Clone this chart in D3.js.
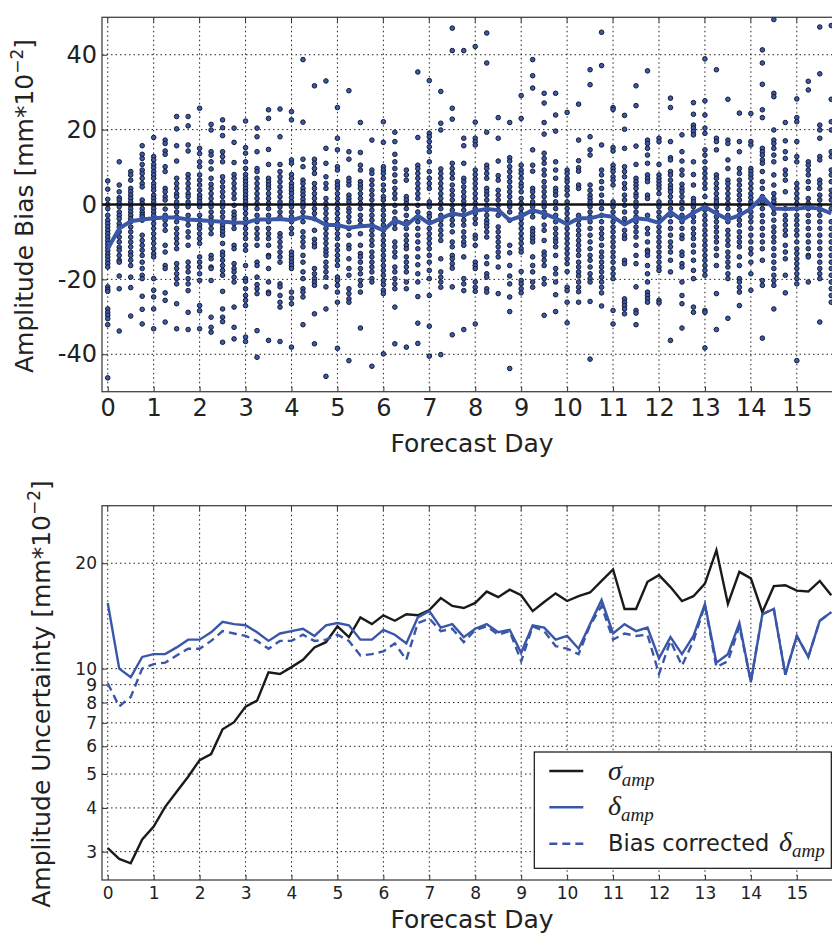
<!DOCTYPE html>
<html>
<head>
<meta charset="utf-8">
<script src="https://cdn.jsdelivr.net/npm/d3@7"></script>
<style>
  body { margin: 0; background: #fff; }
  svg { display: block; font-family: "DejaVu Sans", sans-serif; }
</style>
</head>
<body>
<svg id="chart" width="832" height="934"></svg>
<script>
// forecast lead times (days, 6-hourly)
var days = [0, 0.25, 0.5, 0.75, 1, 1.25, 1.5, 1.75, 2, 2.25, 2.5, 2.75, 3, 3.25, 3.5, 3.75,
  4, 4.25, 4.5, 4.75, 5, 5.25, 5.5, 5.75, 6, 6.25, 6.5, 6.75, 7, 7.25, 7.5, 7.75,
  8, 8.25, 8.5, 8.75, 9, 9.25, 9.5, 9.75, 10, 10.25, 10.5, 10.75, 11, 11.25, 11.5, 11.75,
  12, 12.25, 12.5, 12.75, 13, 13.25, 13.5, 13.75, 14, 14.25, 14.5, 14.75, 15, 15.25, 15.5, 15.75];

var dayTicks = [0, 1, 2, 3, 4, 5, 6, 7, 8, 9, 10, 11, 12, 13, 14, 15];
var biasTicks = [-40, -20, 0, 20, 40];
var uncTicks = [3, 4, 5, 6, 7, 8, 9, 10, 20];

// amplitude bias of each event, one list per lead time
var biasSamples = [
  [6.3,4.1,1.4,0,-1.1,-2.9,-4.2,-5.1,-6,-6.9,-7.8,-8.7,-9.6,-10.5,-11.4,-12.3,-13.2,-14,-14.9,-15.8,-16.7,-22,-22.7,-23.2,-27.9,-28.8,-29.6,-30.5,-32.1,-46.3],
  [11.4,5.2,3.4,1.8,1.2,0.3,-0.6,-2,-2.9,-3.8,-5.1,-6,-7.3,-8.7,-10,-11.4,-12.2,-13.6,-14.9,-15.4,-19.1,-22.5,-33.8],
  [8.8,7.9,6.5,4.3,3.4,2.5,1.6,0.7,-0.2,-1.1,-2,-2.9,-3.8,-4.6,-6,-7.3,-8.7,-10,-11.3,-12.7,-13.6,-14.9,-16.3,-19.4,-22.2,-29.8],
  [15.7,13.4,12.3,10.7,9.2,8.3,7,5.6,4.7,1.2,0.3,-1.1,-2,-2.7,-3.3,-4.2,-8.2,-9.6,-10.9,-12.2,-13.6,-15.4,-17.1,-18.9,-19.8,-24.5,-28,-31.9],
  [17.9,12.8,11.9,10.7,9.8,8.8,7.9,7,5.6,4.7,3.8,2.5,1.6,0.7,-0.2,-1.1,-2,-2.9,-3.9,-5.1,-6.4,-7.8,-9.1,-10.4,-11.8,-13.1,-14,-19.8,-22.9,-24.7,-27.9,-33.2],
  [17.2,16.3,14.3,13.4,10.1,8.8,4.3,3.4,2.1,1.2,-1.2,-2.9,-4.2,-5.5,-6.9,-10.9,-12.7,-16.3,-17.1,-23.6,-25.6,-31.4],
  [23.5,20.2,15.7,11.6,7,5.6,4.3,2.9,2.1,0.7,-0.6,-2,-3.3,-4.6,-6.4,-7.8,-9.1,-10.4,-11.8,-15.8,-17.1,-18.5,-19.8,-21.2,-26.5,-33.2],
  [23.5,21,15.9,14.3,8,7,5.6,4.3,2.9,2.1,0.7,-0.6,-2.9,-4.2,-5.5,-7.3,-8.7,-10.9,-15.4,-16.7,-18,-19.8,-21.2,-23,-28.8,-33.4],
  [25.7,15,13.6,11.4,10.1,7.9,6.5,5.2,3.8,2.5,1.6,0.7,-0.6,-2.9,-4.2,-5.5,-6.4,-7.8,-9.1,-10.4,-14,-15.4,-16.7,-18.5,-20.3,-27,-28.4,-33.2],
  [21.4,19.9,14.1,13.2,11.4,9.5,7,5.4,4.3,2.9,1.6,0.3,-0.6,-2,-3.3,-4.2,-5.1,-6.4,-7.8,-13.6,-14.5,-16.7,-17.1,-20.3,-30.1,-32.8,-34.1],
  [22.6,20.5,18.4,14.1,12.8,11.4,7.4,6.1,4.7,3.4,2.1,0.7,-0.6,-2,-3.3,-4.6,-5.5,-6.4,-7.3,-8.2,-10.4,-12.7,-13.6,-14.9,-16.3,-17.6,-18.9,-23.2,-27.9,-30.1,-31.3,-36.8],
  [20.4,16.6,11.2,8,7,5.6,4.3,2.9,1.6,-0.2,-2,-2.9,-3.8,-5.1,-6.4,-10.9,-11.8,-15.8,-17.1,-18,-19.4,-20.7,-27.4,-32.8,-35.9],
  [22.3,15.2,13.7,11.4,9.6,8,7,6.1,5.2,4.3,3.4,2.5,1.6,0.7,-0.2,-1.1,-2.4,-3.8,-5.1,-6.4,-7.8,-9.1,-10.9,-12.2,-16.3,-19.8,-20.5,-22.5,-24.3,-25.6,-27,-35.4,-36.6],
  [20.4,18.1,14.1,9.6,8.8,7,5.6,4.3,2.9,1.6,0.3,-1.1,-2.9,-4.6,-6.4,-7.8,-9.1,-10.9,-15.4,-16.3,-19.4,-21.4,-22.5,-23.8,-33.7,-40.8],
  [25.3,23,14.7,10.7,7,6.1,5.2,4.3,2.9,1.6,0.3,-1.1,-2.9,-4.6,-6.4,-7.8,-9.1,-10.9,-13.6,-14,-17.1,-20.7,-23.4,-23.8,-36.3],
  [25.5,18.1,10.7,8.8,7.4,6.1,4.7,3.4,2.1,0.7,-0.6,-2,-3.3,-7.8,-8.7,-10,-11.3,-12.7,-14,-15.4,-21.2,-22,-24.3,-26.1,-27.4,-36.6],
  [24.8,22.6,11.9,11,8,7,5.6,4.7,3.8,2.9,1.8,0.7,-0.6,-2,-3.3,-4.6,-6.4,-7.8,-12.7,-13.6,-14.5,-15.4,-16.3,-17.1,-23.4,-25,-26.5,-38.1],
  [38.7,22,12.1,10.1,6.5,5.6,4.3,3.4,2.5,1.4,0.5,-0.6,-2,-3.3,-4.6,-7.3,-8.7,-10,-11.3,-13.6,-15.4,-18,-19.8,-22.5,-23.4,-24.7,-32.1],
  [31.7,12.1,11,9.6,8.3,5.6,4.3,2.9,1.6,0.3,-1.1,-2.4,-3.8,-6.9,-9.3,-10.4,-11.3,-17.1,-18.5,-19.8,-20.7,-21.6,-29.2,-37.2],
  [33,15,11,7.4,5.6,4.3,1.6,0.3,-1.1,-2.4,-3.8,-5.1,-6.4,-7.8,-9.1,-10.4,-11.8,-12.7,-13.6,-15.4,-16.7,-18,-19.4,-22,-27.9,-45.9],
  [25.9,17.7,14.6,10.1,9.2,6.1,5.2,4.3,2.9,1.6,0.3,-1.1,-2.4,-3.8,-5.1,-6.4,-7.8,-9.1,-10.9,-12.2,-13.6,-14.9,-16.3,-19.4,-20.3,-21.6,-23.4,-26.1,-38.4],
  [30.4,14.1,12.1,7,6.1,5.2,2.5,1.6,0.7,-1.1,-2,-3.3,-4.6,-6.4,-8.2,-10.9,-11.8,-14.5,-17.1,-18.9,-22.5,-23.8,-25.2,-26.1,-41.7],
  [21.9,13.9,10.5,9.2,6.1,5.2,4.3,2.9,1.6,0.3,-1.1,-2.9,-4.2,-5.5,-7.8,-10.9,-13.1,-14,-15.4,-17.1,-18.5,-20.3,-21.6,-23.4,-33],
  [17.2,9.2,8.3,6.5,5.2,3.8,2.5,1.2,-0.2,-1.5,-2.9,-4.2,-5.5,-6.9,-8.2,-9.6,-10.9,-12.7,-14,-15.4,-16.7,-18,-19.8,-20.7,-43.2],
  [22.1,16.6,10.1,9.2,8.3,7,5.2,3.8,2.1,1.2,-0.2,-1.5,-2.9,-4.2,-5.5,-6.9,-8.2,-9.6,-10.9,-12.2,-13.6,-14.9,-16.3,-17.6,-18.9,-20.3,-21.4,-22.9,-23.8,-39.9],
  [19.3,16.8,13.4,11.4,9.6,7.9,6.1,4.3,2.9,1.6,-0.2,-2,-3.8,-5.1,-6.4,-10,-11.3,-12.7,-14,-16.7,-18,-19.8,-21.2,-22.5,-27.4,-37.2],
  [9.2,7.9,6.5,2.1,1.2,0.3,-1.1,-2.9,-4.6,-6.4,-8.2,-9.6,-10.9,-11.8,-14,-15.4,-16.7,-18,-20.7,-22.5,-38.1],
  [35.4,17.9,10.5,9.6,8.3,7,5.6,4.3,2.9,1.6,-0.2,-2,-3.3,-4.6,-6.4,-8.2,-10,-11.8,-14,-16.1,-18.5,-20.7,-24.6,-31.7,-37.1],
  [33.1,19,18.1,16.8,15.4,14.1,11.4,8.8,7,5.6,4.3,0.7,-0.6,-2.4,-3.3,-4.6,-6.4,-7.8,-9.1,-10.4,-11.8,-13.6,-15.4,-17.6,-19.8,-24.3,-32.5,-40.5],
  [30.2,21.7,19.9,9.5,8.3,7,5.6,4.3,2.9,1.6,0.3,-1.1,-2.9,-4.2,-5.5,-6.9,-8.2,-9.6,-14.5,-18,-19.4,-20.7,-22.1,-40.1],
  [47.1,41.1,25.7,22.8,11,9.6,8.3,7,5.2,3.8,2.5,1.2,-0.2,-1.5,-2.9,-4.2,-5.5,-7.3,-10,-11.3,-13.6,-14.5,-15.8,-17,-22,-34.8],
  [41.1,17.7,15.7,11,7,6.1,4.7,3.4,2.1,0.9,-0.2,-1.5,-2.9,-4.2,-5.5,-7.3,-8.7,-10,-10.9,-14,-19.8,-21.2,-23,-33.4],
  [42.2,22,17.7,16.8,15.9,9.2,8,6.8,5.6,4.3,2.9,1.6,0.3,-1.1,-2.4,-3.8,-5.1,-8.2,-9.1,-10.9,-15.4,-16.3,-17.1,-20.7,-22.1,-23.2,-31.9],
  [45.8,37.8,19.3,10.5,9.6,8.3,7,4.3,3.4,2.5,1.2,-0.2,-1.5,-2.9,-4.2,-5.1,-6,-7.3,-8.7,-14,-15.8,-18.5,-19.4,-22.5,-23.4],
  [23.2,17.7,11.6,7.7,6.5,3.8,2.5,1.2,-0.2,-1.5,-2.9,-6,-7.3,-8.7,-10,-11.3,-12.7,-14,-16.7,-23.8],
  [21.9,12.5,11.6,10.1,8.8,7.4,6.1,4.7,3.4,2.1,0.7,-0.6,-2,-4.2,-10.9,-12.9,-16.3,-19.1,-21.2,-24.7,-28.6,-43.8],
  [29.1,23,10.5,9.2,8.3,7,5.6,4.7,3.4,1.6,0.3,-1.1,-2.4,-3.8,-5.1,-6.4,-7.8,-9.1,-10.4,-11.8,-12.7,-17.9,-20.3,-21.2,-22.5,-23.6],
  [38.7,34.4,31.1,14.6,10.5,8.9,4.3,3.4,2.1,0.7,-0.6,-2,-3.3,-6.4,-7.3,-8.2,-9.1,-10,-14,-16.3,-18,-20.7,-22.1],
  [29.7,27.1,21.9,18.8,13.7,12.3,11,9.2,7.9,6.1,4.7,3.4,2.1,0.7,-0.6,-2,-3.3,-5.5,-6.9,-9.6,-12.7,-13.6,-14.9,-16.3,-19.8,-21.2,-29.6],
  [29.7,23.9,19.6,11.4,9.2,7,4.3,3.4,2.5,0.7,-1.1,-2.9,-4.6,-6.4,-7.8,-9.1,-10,-11.3,-13.6,-17.1,-18.5,-20.7,-24.1,-28.6],
  [24.6,9.2,8.3,7,6.1,4.7,3.8,2.5,0.7,-1.1,-2.4,-3.8,-5.1,-6.4,-7.8,-9.1,-10.4,-11.8,-13.1,-14.5,-15.8,-17.9,-22.1,-23,-26.1,-31.6],
  [26.8,17.2,11.7,9.8,8.9,5.2,4.3,-2.9,-4.2,-5.5,-6.9,-8.2,-9.6,-10.9,-12.2,-13.6,-15.4,-16.7,-18,-19.1,-20.7,-22.1,-23.3,-26.1],
  [36,32,18.1,14.6,13.2,5.2,3.8,2.5,1.6,0.7,-0.6,-2,-3.3,-4.6,-6.4,-8.2,-10,-11.8,-13.6,-14.9,-16.7,-18.5,-19.8,-20.7,-25.9,-41.3],
  [46,37.1,15.9,9.2,7.9,6.1,4.3,2.5,0.7,-1.1,-2.9,-4.6,-6.4,-7.8,-9.1,-10.9,-12.7,-14,-15.4,-16.7,-18,-19.4,-20.7,-22.1,-23.6,-27.1],
  [25.9,25.4,15.2,14.3,10.5,9.6,8.8,7.4,6.5,5.2,0.7,-0.6,-2,-3.3,-4.6,-6,-7.3,-8.7,-10,-11.3,-12.7,-14,-15.4,-17.1,-18.5,-19.8,-28.3,-31.9],
  [23.8,20.1,15,10.1,8.8,7.4,5.6,4.3,2.5,1.2,-0.2,-2,-3.8,-5.1,-6.9,-8.2,-9.1,-14.9,-15.8,-25.2,-26.1,-27,-27.9,-29.2],
  [31.7,26.4,15.6,10.7,7,6.1,5.2,4.3,2.9,2.1,0.7,-0.6,-2,-3.3,-4.6,-6,-7.3,-8.7,-10.9,-13.6,-15.8,-22,-28.3,-29,-32.1],
  [35.7,17.2,16.3,15,13.2,11,7.9,7,6.1,2.5,1.6,-2.9,-6.4,-7.8,-10,-12.2,-12.7,-13.6,-16.3,-18.5,-20.7,-23.4,-24.3,-25.2,-26.1],
  [17.7,16.8,10.7,7.9,7,6.1,5.2,4.3,2.9,0.7,-0.6,-2,-3.3,-4.6,-6,-7.3,-8.7,-10,-11.3,-12.7,-14,-15.4,-16.7,-17.6,-25.6,-26.3],
  [28.4,25.9,16.8,12.5,11.9,8.8,7.9,6.5,5.2,4.3,3.4,2.1,0.7,-1.1,-2.9,-4.6,-6.4,-8.2,-10,-11.3,-12.7,-14.9,-18,-36.3],
  [18.6,14.1,11.6,9.2,7.9,5.4,4.3,3.4,2.1,0.7,-1.1,-2.9,-4.6,-6.4,-8.2,-9.1,-12.7,-13.6,-15.8,-16.7,-20.7,-24.3,-26.5,-33],
  [27.2,24.1,21.2,20.4,19.5,18.6,11.4,8,5.2,1.6,0.7,-0.6,-2,-3.3,-4.6,-6.4,-7.8,-9.1,-10.9,-12.7,-14.9,-17.6,-19.8,-27.4,-28.8],
  [38.9,27.7,23.9,20.4,19,14.6,13.2,11.4,9.6,8.3,7,5.6,4.3,2.1,-0.2,-1.5,-2.9,-4.2,-5.5,-6.9,-8.2,-9.6,-10.9,-12.2,-13.6,-14.9,-16.3,-17.6,-18.9,-28.3,-28.8,-38.3],
  [36,17.7,16.8,14.6,7.9,7,5.6,4.3,2.9,1.6,0.7,-0.6,-2,-3.3,-4.6,-6,-7.3,-8.7,-10,-11.8,-13.6,-16.3,-23.8,-33.4],
  [28.1,17.2,16.3,11.9,9.6,6.5,5.6,4.3,2.9,1.6,0.3,-1.1,-2.9,-4.6,-6.9,-8.2,-9.6,-10.9,-12.7,-14,-15.4,-16.7,-18.5,-19.8,-30.4],
  [24.4,16.8,14.1,9.6,8.3,6.5,5.2,3.8,2.5,1.2,-0.2,-1.5,-2.9,-4.2,-5.5,-7.3,-8.7,-10,-11.3,-14,-16.3,-19.8,-20.7,-22.1,-23.4,-27],
  [24.3,16.8,15.9,9.6,8.8,7.9,7,5.6,4.3,2.9,1.8,0.7,-0.6,-2,-3.3,-4.6,-6.4,-8.2,-10,-11.8,-13.1,-15.4,-18.5,-22.9],
  [41.3,37.8,32.1,25.3,23.2,15,14.1,13.2,11.9,11,8.8,6.1,4.3,2.1,0.7,-1.1,-2.9,-4.6,-6.4,-8.2,-10,-11.8,-14.9,-20.3,-21.6,-35.7],
  [49.4,29.7,28.8,19.9,17.2,16.3,15,13.2,11.4,7.9,5.2,2.9,1.6,0.7,-1.1,-2.4,-4.2,-6,-7.3,-8.7,-10,-11.8,-13.6,-15.4,-17.1,-18.9,-20.3,-21.6,-27.9],
  [21.9,17,14.1,12.3,9.2,8,6.5,3.4,-1.1,-2.9,-4.2,-5.5,-6.9,-8.2,-10.9,-12.7,-14.5,-18.9,-23.6],
  [28.2,23.2,22.1,16.8,12.8,11.4,5.6,4.3,2.9,1.6,0.3,-1.1,-2.9,-4.2,-5.5,-6.9,-8.2,-10,-11.8,-13.1,-14.5,-15.8,-17.1,-18.5,-19.8,-21.2,-41.7],
  [32.9,30.6,11.4,10.5,9.2,7.9,6.1,4.3,1.6,0.3,-1.1,-2.9,-4.6,-6.4,-8.2,-10,-11.8,-13.6,-14,-20.7],
  [47.4,34.9,21.2,19.9,17.7,12.8,11.9,6.5,5.6,4.3,2.5,1.2,-0.2,-1.5,-2.9,-4.6,-6.4,-8.2,-10,-11.8,-13.6,-15.4,-17.1,-18.5,-19.8,-31.4],
  [47.8,28.1,22.1,19.9,14.1,12.8,9.2,7.9,6.1,3.8,2.5,1.2,-1.1,-4.6,-6.4,-8.2,-10,-11.8,-13.6,-15.4,-17.1,-18.9,-20.7,-22.5,-24.3,-26.1]
];

// mean amplitude bias per lead time
var biasMean = [-11.8, -6.4, -4.5, -4.0, -3.7, -3.5, -3.5, -4.0, -4.2, -4.4,
  -4.6, -4.8, -4.9, -4.0, -4.0, -3.9, -4.2, -3.3, -3.8, -5.5,
  -5.5, -6.2, -5.8, -5.6, -6.9, -4.2, -5.5, -3.0, -5.1, -3.7,
  -2.4, -2.9, -1.7, -1.2, -1.5, -4.2, -3.1, -1.5, -2.4, -3.7,
  -5.3, -3.7, -3.7, -2.9, -3.3, -5.3, -3.7, -4.0, -4.9, -2.0,
  -4.2, -2.2, -0.6, -2.4, -4.0, -2.9, -1.1, 2.1, -1.1, -1.2,
  -1.1, -0.8, -1.1, -2.4];

// amplitude uncertainty
var sigmaAmp = [3.07, 2.86, 2.78, 3.25, 3.54, 4.03, 4.45, 4.91, 5.48, 5.70,
  6.71, 7.03, 7.79, 8.10, 9.76, 9.65, 10.1, 10.6, 11.5, 11.9,
  13.2, 12.3, 14.0, 13.4, 14.2, 13.7, 14.3, 14.2, 14.7, 15.9,
  15.1, 14.9, 15.4, 16.6, 16.0, 16.8, 16.2, 14.6, 15.5, 16.4,
  15.6, 16.1, 16.5, 17.8, 19.2, 14.8, 14.8, 17.7, 18.5, 17.1,
  15.6, 16.1, 17.5, 21.8, 15.3, 18.9, 18.1, 14.5, 17.2, 17.3,
  16.7, 16.6, 17.8, 16.2];
var deltaAmp = [15.4, 10.0, 9.45, 10.8, 11.0, 11.0, 11.5, 12.1, 12.1, 12.7,
  13.6, 13.4, 13.3, 12.7, 12.0, 12.6, 12.8, 13.0, 12.4, 13.3,
  13.5, 13.3, 12.1, 12.1, 12.9, 12.5, 11.8, 14.0, 14.6, 13.1,
  13.4, 12.3, 13.0, 13.4, 12.7, 12.9, 11.1, 13.3, 13.1, 12.1,
  12.4, 11.4, 13.4, 15.7, 12.6, 13.4, 12.8, 13.1, 10.7, 12.3,
  11.0, 12.4, 15.3, 10.4, 11.0, 13.5, 9.16, 14.3, 14.8, 9.6,
  12.4, 10.8, 13.7, 14.5];
var deltaAmpCorrected = [9.08, 7.8, 8.3, 10.0, 10.3, 10.4, 10.9, 11.4, 11.4, 12.0,
  12.8, 12.6, 12.4, 12.0, 11.4, 12.0, 12.0, 12.5, 12.0, 12.1,
  12.5, 12.0, 10.9, 11.0, 11.2, 11.8, 10.6, 13.5, 13.9, 12.8,
  13.0, 11.9, 12.9, 13.2, 12.5, 12.8, 10.5, 13.2, 12.8, 11.6,
  11.4, 11.0, 13.3, 15.1, 12.1, 12.6, 12.4, 12.5, 9.65, 12.0,
  10.2, 12.0, 15.2, 10.1, 10.5, 13.2, 9.2, 14.3, 14.8, 9.65,
  12.4, 10.8, 13.7, 14.5];

var BLUE = "#3a56a8";
var INK = "#222";

var svg = d3.select("#chart");

// both panels share the x scale; plot area runs past the right edge of the page
var x = d3.scaleLinear().domain([-0.125, 15.875]).range([102, 837]);

var top1 = { top: 17.3, bottom: 391.7 };
var top2 = { top: 505.7, bottom: 880 };

var yBias = d3.scaleLinear().domain([-50, 50]).range([top1.bottom, top1.top]);
var yUnc = d3.scaleLog().domain([2.49, 29.2]).range([top2.bottom, top2.top]);

function drawFrame(panel, y, yTicks, fmt, tickFont) {
  var g = svg.append("g");

  // dotted grid
  g.selectAll(".gx").data(dayTicks).enter().append("line")
    .attr("x1", function (d) { return x(d); })
    .attr("x2", function (d) { return x(d); })
    .attr("y1", panel.top).attr("y2", panel.bottom)
    .style("stroke", "#222").style("stroke-width", 1)
    .style("stroke-dasharray", "1.5,3");
  g.selectAll(".gy").data(yTicks).enter().append("line")
    .attr("x1", 102).attr("x2", 837)
    .attr("y1", function (d) { return y(d); })
    .attr("y2", function (d) { return y(d); })
    .style("stroke", "#222").style("stroke-width", 1)
    .style("stroke-dasharray", "1.5,3");

  // axes with inward ticks
  var xa = g.append("g").attr("transform", "translate(0," + panel.bottom + ")")
    .call(d3.axisBottom(x).tickValues(dayTicks).tickSizeInner(-5).tickSizeOuter(0).tickPadding(7));
  var ya = g.append("g").attr("transform", "translate(102,0)")
    .call(d3.axisLeft(y).tickValues(yTicks).tickFormat(fmt).tickSizeInner(-5).tickSizeOuter(0).tickPadding(5));
  [xa, ya].forEach(function (a) {
    a.select(".domain").remove();
    a.selectAll("line").style("stroke", "#333");
    a.selectAll("text")
      .style("font-family", "'DejaVu Sans', sans-serif")
      .style("font-size", tickFont + "px")
      .style("fill", INK);
  });
  // top ticks
  g.selectAll(".tt").data(dayTicks).enter().append("line")
    .attr("x1", function (d) { return x(d); })
    .attr("x2", function (d) { return x(d); })
    .attr("y1", panel.top).attr("y2", panel.top + 5)
    .style("stroke", "#333");

  // spines
  g.append("rect")
    .attr("x", 102).attr("y", panel.top)
    .attr("width", 735).attr("height", panel.bottom - panel.top)
    .style("fill", "none").style("stroke", "#444").style("stroke-width", 1.3);
  return g;
}

// ---------- top panel: amplitude bias ----------
svg.append("clipPath").attr("id", "clip1").append("rect")
  .attr("x", 102).attr("y", top1.top).attr("width", 735).attr("height", top1.bottom - top1.top);

drawFrame(top1, yBias, biasTicks, function (d) { return String(d); }, 24);

var pts = [];
biasSamples.forEach(function (col, i) {
  col.forEach(function (v) { pts.push({ day: days[i], v: v }); });
});

var plot1 = svg.append("g").attr("clip-path", "url(#clip1)");
plot1.selectAll("circle").data(pts).enter().append("circle")
  .attr("cx", function (d) { return x(d.day); })
  .attr("cy", function (d) { return yBias(d.v); })
  .attr("r", 2.3)
  .style("fill", "#3d5aa8")
  .style("stroke", "#141a33")
  .style("stroke-width", 1);

// zero line
plot1.append("line")
  .attr("x1", 102).attr("x2", 837)
  .attr("y1", yBias(0)).attr("y2", yBias(0))
  .style("stroke", "#111").style("stroke-width", 2.4);

// mean bias
plot1.append("path")
  .datum(biasMean)
  .attr("d", d3.line().x(function (d, i) { return x(days[i]); }).y(function (d) { return yBias(d); }))
  .style("fill", "none").style("stroke", BLUE).style("stroke-width", 4)
  .style("stroke-linejoin", "round");

svg.append("text")
  .attr("x", 472).attr("y", 452)
  .attr("text-anchor", "middle")
  .style("font-size", "25px").style("fill", INK)
  .text("Forecast Day");

var yl1 = svg.append("text")
  .attr("transform", "translate(33,206) rotate(-90)")
  .attr("text-anchor", "middle")
  .style("font-size", "25px").style("fill", INK);
yl1.append("tspan").text("Amplitude Bias [mm*10");
yl1.append("tspan").attr("dy", -10).style("font-size", "17px").text("\u22122");
yl1.append("tspan").attr("dy", 10).text("]");

// ---------- bottom panel: amplitude uncertainty ----------
svg.append("clipPath").attr("id", "clip2").append("rect")
  .attr("x", 102).attr("y", top2.top).attr("width", 735).attr("height", top2.bottom - top2.top);

drawFrame(top2, yUnc, uncTicks, function (d) { return String(d); }, 17);

var plot2 = svg.append("g").attr("clip-path", "url(#clip2)");
var lineUnc = d3.line()
  .x(function (d, i) { return x(days[i]); })
  .y(function (d) { return yUnc(d); });

var series = [
  { name: "sigma", data: sigmaAmp, color: "#1a1a1a", dash: null },
  { name: "delta", data: deltaAmp, color: BLUE, dash: null },
  { name: "deltaBC", data: deltaAmpCorrected, color: BLUE, dash: "8,5" }
];

series.forEach(function (s) {
  plot2.append("path")
    .datum(s.data)
    .attr("d", lineUnc)
    .style("fill", "none")
    .style("stroke", s.color)
    .style("stroke-width", 2.4)
    .style("stroke-dasharray", s.dash)
    .style("stroke-linejoin", "miter");
});

svg.append("text")
  .attr("x", 472).attr("y", 928)
  .attr("text-anchor", "middle")
  .style("font-size", "25px").style("fill", INK)
  .text("Forecast Day");

var yl2 = svg.append("text")
  .attr("transform", "translate(50,694) rotate(-90)")
  .attr("text-anchor", "middle")
  .style("font-size", "25px").style("fill", INK);
yl2.append("tspan").text("Amplitude Uncertainty [mm*10");
yl2.append("tspan").attr("dy", -10).style("font-size", "17px").text("\u22122");
yl2.append("tspan").attr("dy", 10).text("]");

// legend
var lg = svg.append("g");
lg.append("rect")
  .attr("x", 534.3).attr("y", 752).attr("width", 297).attr("height", 116.3)
  .style("fill", "#fff").style("stroke", "#111").style("stroke-width", 1.2);

var rowsY = [771, 807.3, 843.7];
series.forEach(function (s, i) {
  lg.append("line")
    .attr("x1", 549.3).attr("x2", 583.3)
    .attr("y1", rowsY[i]).attr("y2", rowsY[i])
    .style("stroke", s.color).style("stroke-width", 2.4)
    .style("stroke-dasharray", s.dash);
});

function mathLabel(xPos, yBase, sym) {
  var t = lg.append("text").attr("x", xPos).attr("y", yBase).style("fill", INK);
  t.append("tspan")
    .style("font-family", "'Liberation Serif', serif").style("font-style", "italic")
    .style("font-size", "28px").text(sym);
  t.append("tspan").attr("dy", 6)
    .style("font-family", "'Liberation Serif', serif").style("font-style", "italic")
    .style("font-size", "19px").text("amp");
  return t;
}
mathLabel(608, 780, "\u03c3");
mathLabel(608, 815, "\u03b4");
lg.append("text").attr("x", 608).attr("y", 851)
  .style("font-size", "22.5px").style("fill", INK)
  .text("Bias corrected");
mathLabel(779, 851, "\u03b4");
</script>
</body>
</html>
